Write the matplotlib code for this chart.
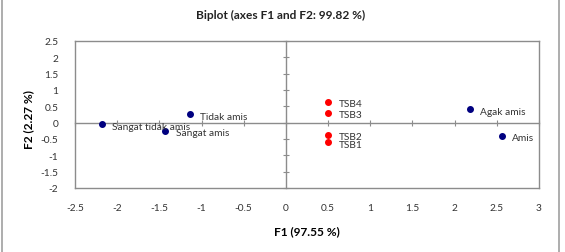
import matplotlib
matplotlib.use('Agg')
import matplotlib.pyplot as plt
from matplotlib.lines import Line2D

plt.rcParams['font.family'] = ['Lato', 'DejaVu Sans']

# observations (red) and variables (dark blue)
obs_names = ['TSB1', 'TSB2', 'TSB3', 'TSB4']
obs_f1 = [0.50, 0.50, 0.50, 0.50]
obs_f2 = [-0.59, -0.37, 0.31, 0.64]

var_names = ['Sangat tidak amis', 'Tidak amis', 'Agak amis', 'Amis', 'Sangat amis']
var_f1 = [-2.18, -1.14, 2.18, 2.56, -1.43]
var_f2 = [-0.04, 0.26, 0.41, -0.40, -0.24]

x_ticks = [-2.5, -2, -1.5, -1, -0.5, 0, 0.5, 1, 1.5, 2, 2.5, 3]
y_ticks = [-2, -1.5, -1, -0.5, 0, 0.5, 1, 1.5, 2, 2.5]

grey = '#8c8c8c'

fig = plt.figure(figsize=(5.65, 2.53), dpi=100)
pos = [0.1327, 0.253, 0.8212, 0.581]

# zero lines with crossing tick marks (drawn underneath)
ax0 = fig.add_axes(pos)
ax0.patch.set_visible(False)
for side in ['top', 'right']:
    ax0.spines[side].set_visible(False)
for side in ['left', 'bottom']:
    ax0.spines[side].set_position(('data', 0))
    ax0.spines[side].set_color(grey)
    ax0.spines[side].set_linewidth(1.0)
ax0.set_xlim(x_ticks[0], x_ticks[-1])
ax0.set_ylim(y_ticks[0], y_ticks[-1])
ax0.set_xticks(x_ticks)
ax0.set_yticks(y_ticks)
ax0.tick_params(direction='inout', length=5, width=0.8, color=grey,
                labelbottom=False, labelleft=False)

ax = fig.add_axes(pos)
ax.patch.set_visible(False)
ax.scatter(var_f1, var_f2, s=16, color='#000080', zorder=3)
ax.scatter(obs_f1, obs_f2, s=16, color='#ff0000', zorder=3)
for name, x, y in zip(var_names, var_f1, var_f2):
    ax.annotate(name, (x, y), xytext=(7.5, -1.5), textcoords='offset points',
                fontsize=7.3, va='center', color='#333333', zorder=4)
for name, x, y in zip(obs_names, obs_f1, obs_f2):
    ax.annotate(name, (x, y), xytext=(7.5, -1.5), textcoords='offset points',
                fontsize=7.3, va='center', color='#333333', zorder=4)

ax.set_xlim(x_ticks[0], x_ticks[-1])
ax.set_ylim(y_ticks[0], y_ticks[-1])
ax.set_xticks(x_ticks)
ax.set_yticks(y_ticks)
ax.set_xticklabels([f'{t:g}' for t in x_ticks])
ax.set_yticklabels([f'{t:g}' for t in y_ticks])
ax.tick_params(length=0, labelsize=7.3, labelcolor='#333333')
ax.tick_params(axis='x', pad=11)
ax.tick_params(axis='y', pad=12)
for sp in ax.spines.values():
    sp.set_color(grey)
    sp.set_linewidth(1.0)

ax.set_xlabel('F1 (97.55 %)', fontsize=8.6, fontweight='bold', labelpad=9)
ax.set_ylabel('F2 (2.27 %)', fontsize=8.6, fontweight='bold')
ax.yaxis.set_label_coords(-0.088, 0.47)

fig.text(0.497, 0.938, 'Biplot (axes F1 and F2: 99.82 %)', ha='center',
         va='center', fontsize=8.6, fontweight='bold', color='#222222')

# outer frame lines
fig.add_artist(Line2D([0.003, 0.003], [0, 1], color='#a0a0a0', lw=1.2,
                      transform=fig.transFigure))
fig.add_artist(Line2D([0.989, 0.989], [0, 1], color='#a0a0a0', lw=1.2,
                      transform=fig.transFigure))

fig.savefig('out.png', dpi=100)
